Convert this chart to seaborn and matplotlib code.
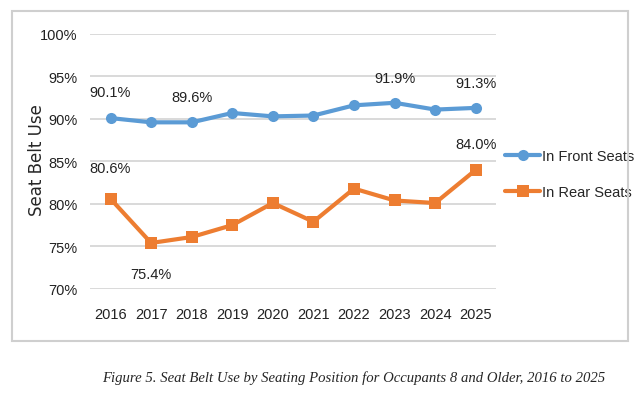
import pandas as pd
import matplotlib.pyplot as plt
import seaborn as sns
from matplotlib.patches import Rectangle
from matplotlib.ticker import FuncFormatter

years = [2016, 2017, 2018, 2019, 2020, 2021, 2022, 2023, 2024, 2025]
front_seats = [90.1, 89.6, 89.6, 90.7, 90.3, 90.4, 91.6, 91.9, 91.1, 91.3]
rear_seats = [80.6, 75.4, 76.1, 77.5, 80.1, 77.9, 81.8, 80.4, 80.1, 84.0]
series_names = ["In Front Seats", "In Rear Seats"]
caption = "Figure 5. Seat Belt Use by Seating Position for Occupants 8 and Older, 2016 to 2025"

# data labels shown on the chart: (year, value, offset in points)
labels_front = [(2016, 90.1, 19), (2018, 89.6, 18), (2023, 91.9, 18), (2025, 91.3, 18)]
labels_rear = [(2016, 80.6, 22), (2017, 75.4, -22), (2025, 84.0, 19)]

df = pd.DataFrame({
    "Year": years * 2,
    "Use": front_seats + rear_seats,
    "Seat": [series_names[0]] * len(years) + [series_names[1]] * len(years),
})

sns.set_style("white")
font = ["Liberation Sans", "DejaVu Sans"]

fig = plt.figure(figsize=(6.4, 4.02), dpi=100)
ax = fig.add_axes([0.141, 0.279, 0.634, 0.634])

colors = {"In Front Seats": "#5B9BD5", "In Rear Seats": "#ED7D31"}
sns.lineplot(data=df, x="Year", y="Use", hue="Seat", style="Seat",
             markers={"In Front Seats": "o", "In Rear Seats": "s"},
             dashes=False, palette=colors, linewidth=3, markersize=8,
             markeredgewidth=0, ax=ax)

ax.set_ylim(70, 100)
ax.set_xlim(2015.5, 2025.5)
ax.set_yticks([70, 75, 80, 85, 90, 95, 100])
ax.set_xticks(years)
ax.yaxis.set_major_formatter(FuncFormatter(lambda v, p: f"{v:.0f}%"))
ax.grid(axis="y", color="#d9d9d9", linewidth=1.4)
ax.grid(axis="x", visible=False)
sns.despine(ax=ax, left=True, bottom=True)
ax.tick_params(axis="y", length=0, pad=9)
ax.tick_params(axis="x", length=0, pad=13)
for t in ax.get_xticklabels() + ax.get_yticklabels():
    t.set_family(font)
    t.set_fontsize(10.5)
    t.set_color("#222222")

ax.set_xlabel("")
ax.set_ylabel("Seat Belt Use", fontsize=12, family="DejaVu Sans")
ax.yaxis.set_label_coords(-0.11, 0.51)

for x, v, off in labels_front + labels_rear:
    ax.annotate(f"{v:.1f}%", (x, v), xytext=(0, off), textcoords="offset points",
                ha="center", va="center", fontsize=10.5, family=font, color="#222222")

leg = ax.legend(loc="center left", bbox_to_anchor=(0.99, 0.45), frameon=False,
                prop={"family": font, "size": 10.5}, handlelength=2.4,
                handletextpad=0.1, labelspacing=1.55)

# chart border and caption
fig.patches.append(Rectangle((12 / 640, 1 - 342 / 402), 616 / 640, 330 / 402,
                             transform=fig.transFigure, fill=False,
                             edgecolor="#cfcfcf", linewidth=1.5))
fig.text(354 / 640, 1 - 378 / 402, caption, ha="center", va="center",
         fontsize=10.6, family="Liberation Serif", style="italic")

fig.savefig("out.png", dpi=100)
